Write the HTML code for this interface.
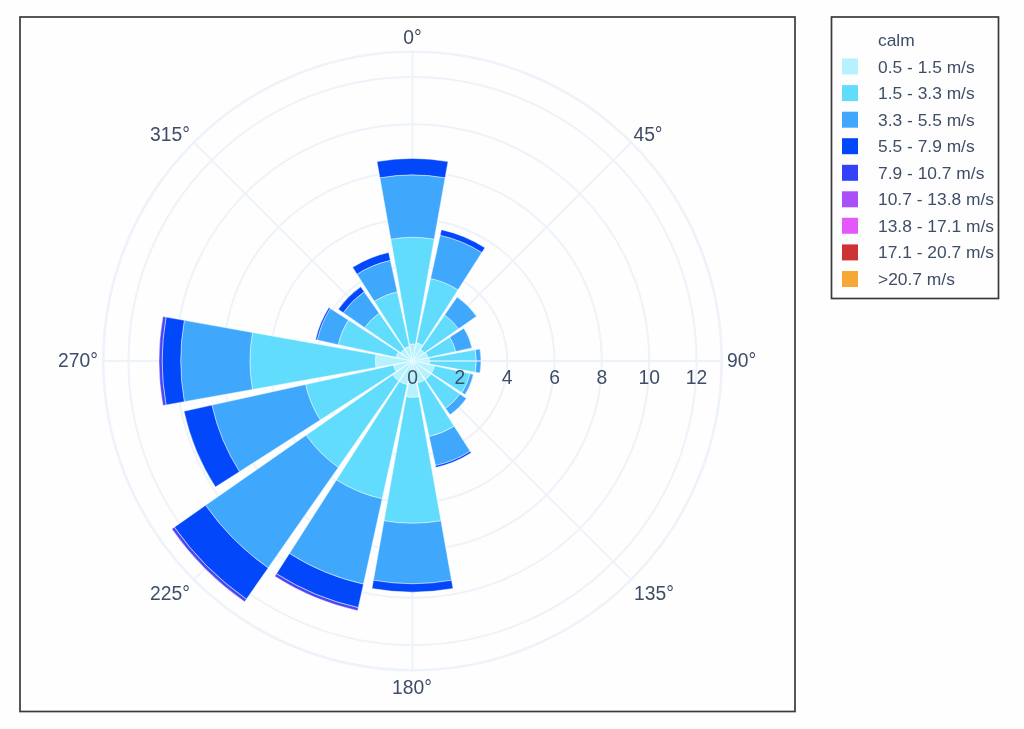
<!DOCTYPE html><html><head><meta charset="utf-8"><title>Wind rose</title><style>
html,body{margin:0;padding:0;background:#fff}body{width:1024px;height:729px;overflow:hidden;position:relative}
svg{position:absolute;left:0;top:0;filter:blur(0.45px)}text{font-family:"Liberation Sans",sans-serif;font-size:19.3px;letter-spacing:0px;fill:#3f4d67}.lg text{font-size:17.4px;letter-spacing:0}
</style></head><body>
<svg width="1024" height="729" viewBox="0 0 1024 729">
<rect x="0" y="0" width="1024" height="729" fill="#fefefe"/>
<g fill="none" stroke="#eef3fa" stroke-width="2">
<circle cx="412.5" cy="361.0" r="47.3"/>
<circle cx="412.5" cy="361.0" r="94.7"/>
<circle cx="412.5" cy="361.0" r="142.0"/>
<circle cx="412.5" cy="361.0" r="189.4"/>
<circle cx="412.5" cy="361.0" r="236.7"/>
<circle cx="412.5" cy="361.0" r="284.0"/>
<line x1="412.5" y1="361.0" x2="412.5" y2="51.8"/>
<line x1="412.5" y1="361.0" x2="631.1" y2="142.4"/>
<line x1="412.5" y1="361.0" x2="721.7" y2="361.0"/>
<line x1="412.5" y1="361.0" x2="631.1" y2="579.6"/>
<line x1="412.5" y1="361.0" x2="412.5" y2="670.2"/>
<line x1="412.5" y1="361.0" x2="193.9" y2="579.6"/>
<line x1="412.5" y1="361.0" x2="103.3" y2="361.0"/>
<line x1="412.5" y1="361.0" x2="193.9" y2="142.4"/>
<circle cx="412.5" cy="361.0" r="309.2" stroke-width="2.6"/>
</g>
<g stroke="#ffffff" stroke-opacity="0.55" stroke-width="0.8" stroke-linejoin="miter">
<path d="M412.50,361.00L409.49,344.13A17.14,17.14 0 0 1 415.51,344.13L412.50,361.00Z" fill="#b5f2fe"/>
<path d="M409.49,344.13L390.80,239.16A123.76,123.76 0 0 1 434.20,239.16L415.51,344.13A17.14,17.14 0 0 0 409.49,344.13Z" fill="#62dcfd"/>
<path d="M390.80,239.16L379.86,177.77A186.12,186.12 0 0 1 445.14,177.77L434.20,239.16A123.76,123.76 0 0 0 390.80,239.16Z" fill="#40a8fc"/>
<path d="M379.86,177.77L376.98,161.60A202.54,202.54 0 0 1 448.02,161.60L445.14,177.77A186.12,186.12 0 0 0 379.86,177.77Z" fill="#0347fb"/>
<path d="M412.50,361.00L416.54,342.64A18.80,18.80 0 0 1 422.63,345.16L412.50,361.00Z" fill="#b5f2fe"/>
<path d="M416.54,342.64L430.64,278.48A84.49,84.49 0 0 1 458.02,289.82L422.63,345.16A18.80,18.80 0 0 0 416.54,342.64Z" fill="#62dcfd"/>
<path d="M430.64,278.48L440.15,235.25A128.76,128.76 0 0 1 481.87,252.53L458.02,289.82A84.49,84.49 0 0 0 430.64,278.48Z" fill="#40a8fc"/>
<path d="M440.15,235.25L441.38,229.67A134.47,134.47 0 0 1 484.95,247.72L481.87,252.53A128.76,128.76 0 0 0 440.15,235.25Z" fill="#0347fb"/>
<path d="M412.50,361.00L420.67,349.29A14.28,14.28 0 0 1 424.21,352.83L412.50,361.00Z" fill="#b5f2fe"/>
<path d="M420.67,349.29L444.64,314.93A56.17,56.17 0 0 1 458.57,328.86L424.21,352.83A14.28,14.28 0 0 0 420.67,349.29Z" fill="#62dcfd"/>
<path d="M444.64,314.93L457.16,296.98A78.06,78.06 0 0 1 476.52,316.34L458.57,328.86A56.17,56.17 0 0 0 444.64,314.93Z" fill="#40a8fc"/>
<path d="M412.50,361.00L425.73,352.54A15.71,15.71 0 0 1 427.84,357.63L412.50,361.00Z" fill="#b5f2fe"/>
<path d="M425.73,352.54L449.79,337.15A44.27,44.27 0 0 1 455.74,351.49L427.84,357.63A15.71,15.71 0 0 0 425.73,352.54Z" fill="#62dcfd"/>
<path d="M449.79,337.15L463.83,328.17A60.93,60.93 0 0 1 472.01,347.92L455.74,351.49A44.27,44.27 0 0 0 449.79,337.15Z" fill="#40a8fc"/>
<path d="M412.50,361.00L429.37,357.99A17.14,17.14 0 0 1 429.37,364.01L412.50,361.00Z" fill="#b5f2fe"/>
<path d="M429.37,357.99L475.30,349.81A63.78,63.78 0 0 1 475.30,372.19L429.37,364.01A17.14,17.14 0 0 0 429.37,357.99Z" fill="#62dcfd"/>
<path d="M475.30,349.81L479.98,348.98A68.54,68.54 0 0 1 479.98,373.02L475.30,372.19A63.78,63.78 0 0 0 475.30,349.81Z" fill="#40a8fc"/>
<path d="M412.50,361.00L434.58,365.86A22.61,22.61 0 0 1 431.55,373.18L412.50,361.00Z" fill="#b5f2fe"/>
<path d="M434.58,365.86L469.91,373.62A58.79,58.79 0 0 1 462.02,392.67L431.55,373.18A22.61,22.61 0 0 0 434.58,365.86Z" fill="#62dcfd"/>
<path d="M469.91,373.62L473.40,374.39A62.36,62.36 0 0 1 465.03,394.60L462.02,392.67A58.79,58.79 0 0 0 469.91,373.62Z" fill="#40a8fc"/>
<path d="M412.50,361.00L431.04,373.94A22.61,22.61 0 0 1 425.44,379.54L412.50,361.00Z" fill="#b5f2fe"/>
<path d="M431.04,373.94L459.93,394.09A57.83,57.83 0 0 1 445.59,408.43L425.44,379.54A22.61,22.61 0 0 0 431.04,373.94Z" fill="#62dcfd"/>
<path d="M459.93,394.09L466.37,398.58A65.69,65.69 0 0 1 450.08,414.87L445.59,408.43A57.83,57.83 0 0 0 459.93,394.09Z" fill="#40a8fc"/>
<path d="M412.50,361.00L424.68,380.05A22.61,22.61 0 0 1 417.36,383.08L412.50,361.00Z" fill="#b5f2fe"/>
<path d="M424.68,380.05L454.17,426.16A77.35,77.35 0 0 1 429.11,436.55L417.36,383.08A22.61,22.61 0 0 0 424.68,380.05Z" fill="#62dcfd"/>
<path d="M454.17,426.16L470.20,451.23A107.10,107.10 0 0 1 435.50,465.60L429.11,436.55A77.35,77.35 0 0 0 454.17,426.16Z" fill="#40a8fc"/>
<path d="M470.20,451.23L471.23,452.83A109.00,109.00 0 0 1 435.91,467.46L435.50,465.60A107.10,107.10 0 0 0 470.20,451.23Z" fill="#0347fb"/>
<path d="M412.50,361.00L418.89,396.85A36.41,36.41 0 0 1 406.11,396.85L412.50,361.00Z" fill="#b5f2fe"/>
<path d="M418.89,396.85L440.96,520.80A162.32,162.32 0 0 1 384.04,520.80L406.11,396.85A36.41,36.41 0 0 0 418.89,396.85Z" fill="#62dcfd"/>
<path d="M440.96,520.80L451.57,580.32A222.77,222.77 0 0 1 373.43,580.32L384.04,520.80A162.32,162.32 0 0 0 440.96,520.80Z" fill="#40a8fc"/>
<path d="M451.57,580.32L453.03,588.52A231.10,231.10 0 0 1 371.97,588.52L373.43,580.32A222.77,222.77 0 0 0 451.57,580.32Z" fill="#0347fb"/>
<path d="M412.50,361.00L407.29,384.71A24.28,24.28 0 0 1 399.42,381.45L412.50,361.00Z" fill="#b5f2fe"/>
<path d="M407.29,384.71L382.19,498.84A141.13,141.13 0 0 1 336.46,479.90L399.42,381.45A24.28,24.28 0 0 0 407.29,384.71Z" fill="#62dcfd"/>
<path d="M382.19,498.84L363.44,584.15A228.48,228.48 0 0 1 289.40,553.48L336.46,479.90A141.13,141.13 0 0 0 382.19,498.84Z" fill="#40a8fc"/>
<path d="M363.44,584.15L358.28,607.63A252.52,252.52 0 0 1 276.45,573.73L289.40,553.48A228.48,228.48 0 0 0 363.44,584.15Z" fill="#0347fb"/>
<path d="M358.28,607.63L357.61,610.65A255.61,255.61 0 0 1 274.78,576.34L276.45,573.73A252.52,252.52 0 0 0 358.28,607.63Z" fill="#4a44f8"/>
<path d="M412.50,361.00L398.61,380.91A24.28,24.28 0 0 1 392.59,374.89L412.50,361.00Z" fill="#b5f2fe"/>
<path d="M398.61,380.91L338.29,467.38A129.71,129.71 0 0 1 306.12,435.21L392.59,374.89A24.28,24.28 0 0 0 398.61,380.91Z" fill="#62dcfd"/>
<path d="M338.29,467.38L268.16,567.91A252.28,252.28 0 0 1 205.59,505.34L306.12,435.21A129.71,129.71 0 0 0 338.29,467.38Z" fill="#40a8fc"/>
<path d="M268.16,567.91L246.37,599.14A290.36,290.36 0 0 1 174.36,527.13L205.59,505.34A252.28,252.28 0 0 0 268.16,567.91Z" fill="#0347fb"/>
<path d="M246.37,599.14L244.60,601.68A293.45,293.45 0 0 1 171.82,528.90L174.36,527.13A290.36,290.36 0 0 0 246.37,599.14Z" fill="#4a44f8"/>
<path d="M412.50,361.00L396.06,371.51A19.52,19.52 0 0 1 393.44,365.19L412.50,361.00Z" fill="#b5f2fe"/>
<path d="M396.06,371.51L320.27,419.98A109.48,109.48 0 0 1 305.57,384.51L393.44,365.19A19.52,19.52 0 0 0 396.06,371.51Z" fill="#62dcfd"/>
<path d="M320.27,419.98L239.47,471.66A205.39,205.39 0 0 1 211.90,405.11L305.57,384.51A109.48,109.48 0 0 0 320.27,419.98Z" fill="#40a8fc"/>
<path d="M239.47,471.66L215.40,487.05A233.95,233.95 0 0 1 184.00,411.24L211.90,405.11A205.39,205.39 0 0 0 239.47,471.66Z" fill="#0347fb"/>
<path d="M412.50,361.00L375.95,367.51A37.13,37.13 0 0 1 375.95,354.49L412.50,361.00Z" fill="#b5f2fe"/>
<path d="M375.95,367.51L252.47,389.51A162.55,162.55 0 0 1 252.47,332.49L375.95,354.49A37.13,37.13 0 0 0 375.95,367.51Z" fill="#62dcfd"/>
<path d="M252.47,389.51L184.28,401.65A231.81,231.81 0 0 1 184.28,320.35L252.47,332.49A162.55,162.55 0 0 0 252.47,389.51Z" fill="#40a8fc"/>
<path d="M184.28,401.65L166.00,404.91A250.38,250.38 0 0 1 166.00,317.09L184.28,320.35A231.81,231.81 0 0 0 184.28,401.65Z" fill="#0347fb"/>
<path d="M166.00,404.91L162.96,405.45A253.47,253.47 0 0 1 162.96,316.55L166.00,317.09A250.38,250.38 0 0 0 166.00,404.91Z" fill="#4a44f8"/>
<path d="M412.50,361.00L396.00,357.37A16.90,16.90 0 0 1 398.26,351.90L412.50,361.00Z" fill="#b5f2fe"/>
<path d="M396.00,357.37L338.12,344.65A76.16,76.16 0 0 1 348.34,319.97L398.26,351.90A16.90,16.90 0 0 0 396.00,357.37Z" fill="#62dcfd"/>
<path d="M338.12,344.65L317.20,340.05A97.58,97.58 0 0 1 330.29,308.43L348.34,319.97A76.16,76.16 0 0 0 338.12,344.65Z" fill="#40a8fc"/>
<path d="M317.20,340.05L315.57,339.69A99.25,99.25 0 0 1 328.89,307.53L330.29,308.43A97.58,97.58 0 0 0 317.20,340.05Z" fill="#0347fb"/>
<path d="M412.50,361.00L400.79,352.83A14.28,14.28 0 0 1 404.33,349.29L412.50,361.00Z" fill="#b5f2fe"/>
<path d="M400.79,352.83L364.68,327.64A58.31,58.31 0 0 1 379.14,313.18L404.33,349.29A14.28,14.28 0 0 0 400.79,352.83Z" fill="#62dcfd"/>
<path d="M364.68,327.64L343.21,312.66A84.49,84.49 0 0 1 364.16,291.71L379.14,313.18A58.31,58.31 0 0 0 364.68,327.64Z" fill="#40a8fc"/>
<path d="M343.21,312.66L338.33,309.26A90.44,90.44 0 0 1 360.76,286.83L364.16,291.71A84.49,84.49 0 0 0 343.21,312.66Z" fill="#0347fb"/>
<path d="M412.50,361.00L404.42,348.37A14.99,14.99 0 0 1 409.28,346.36L412.50,361.00Z" fill="#b5f2fe"/>
<path d="M404.42,348.37L374.29,301.25A70.92,70.92 0 0 1 397.27,291.73L409.28,346.36A14.99,14.99 0 0 0 404.42,348.37Z" fill="#62dcfd"/>
<path d="M374.29,301.25L356.98,274.18A103.05,103.05 0 0 1 390.37,260.35L397.27,291.73A70.92,70.92 0 0 0 374.29,301.25Z" fill="#40a8fc"/>
<path d="M356.98,274.18L352.62,267.36A111.15,111.15 0 0 1 388.63,252.45L390.37,260.35A103.05,103.05 0 0 0 356.98,274.18Z" fill="#0347fb"/>
</g>
<line x1="412.5" y1="361.0" x2="721.7" y2="361.0" stroke="#eef3fa" stroke-width="1.6" stroke-opacity="0.8"/>
<text x="412.5" y="383.5" text-anchor="middle">0</text>
<text x="459.8" y="383.5" text-anchor="middle">2</text>
<text x="507.2" y="383.5" text-anchor="middle">4</text>
<text x="554.5" y="383.5" text-anchor="middle">6</text>
<text x="601.9" y="383.5" text-anchor="middle">8</text>
<text x="649.2" y="383.5" text-anchor="middle">10</text>
<text x="696.5" y="383.5" text-anchor="middle">12</text>
<text x="412.5" y="43.5" text-anchor="middle">0°</text>
<text x="648" y="141" text-anchor="middle">45°</text>
<text x="727" y="367" text-anchor="start">90°</text>
<text x="654" y="600" text-anchor="middle">135°</text>
<text x="412" y="694" text-anchor="middle">180°</text>
<text x="170" y="600" text-anchor="middle">225°</text>
<text x="98" y="367" text-anchor="end">270°</text>
<text x="170" y="141" text-anchor="middle">315°</text>
<rect x="20" y="17" width="775" height="694.5" fill="none" stroke="#3a3a3a" stroke-width="1.7"/>
<g class="lg">
<rect x="831.5" y="17" width="167" height="281.5" fill="#fefefe" stroke="#3a3a3a" stroke-width="1.7"/>
<text x="878" y="46.0">calm</text>
<rect x="842" y="58.5" width="16" height="16" fill="#b5f2fe"/>
<text x="878" y="72.5">0.5 - 1.5 m/s</text>
<rect x="842" y="85.1" width="16" height="16" fill="#62dcfd"/>
<text x="878" y="99.1">1.5 - 3.3 m/s</text>
<rect x="842" y="111.7" width="16" height="16" fill="#40a8fc"/>
<text x="878" y="125.7">3.3 - 5.5 m/s</text>
<rect x="842" y="138.2" width="16" height="16" fill="#0347fb"/>
<text x="878" y="152.2">5.5 - 7.9 m/s</text>
<rect x="842" y="164.8" width="16" height="16" fill="#3540fa"/>
<text x="878" y="178.8">7.9 - 10.7 m/s</text>
<rect x="842" y="191.3" width="16" height="16" fill="#a950f9"/>
<text x="878" y="205.3">10.7 - 13.8 m/s</text>
<rect x="842" y="217.8" width="16" height="16" fill="#e457fa"/>
<text x="878" y="231.8">13.8 - 17.1 m/s</text>
<rect x="842" y="244.4" width="16" height="16" fill="#cd3333"/>
<text x="878" y="258.4">17.1 - 20.7 m/s</text>
<rect x="842" y="271.0" width="16" height="16" fill="#f6a834"/>
<text x="878" y="285.0">>20.7 m/s</text>
</g>
</svg></body></html>
